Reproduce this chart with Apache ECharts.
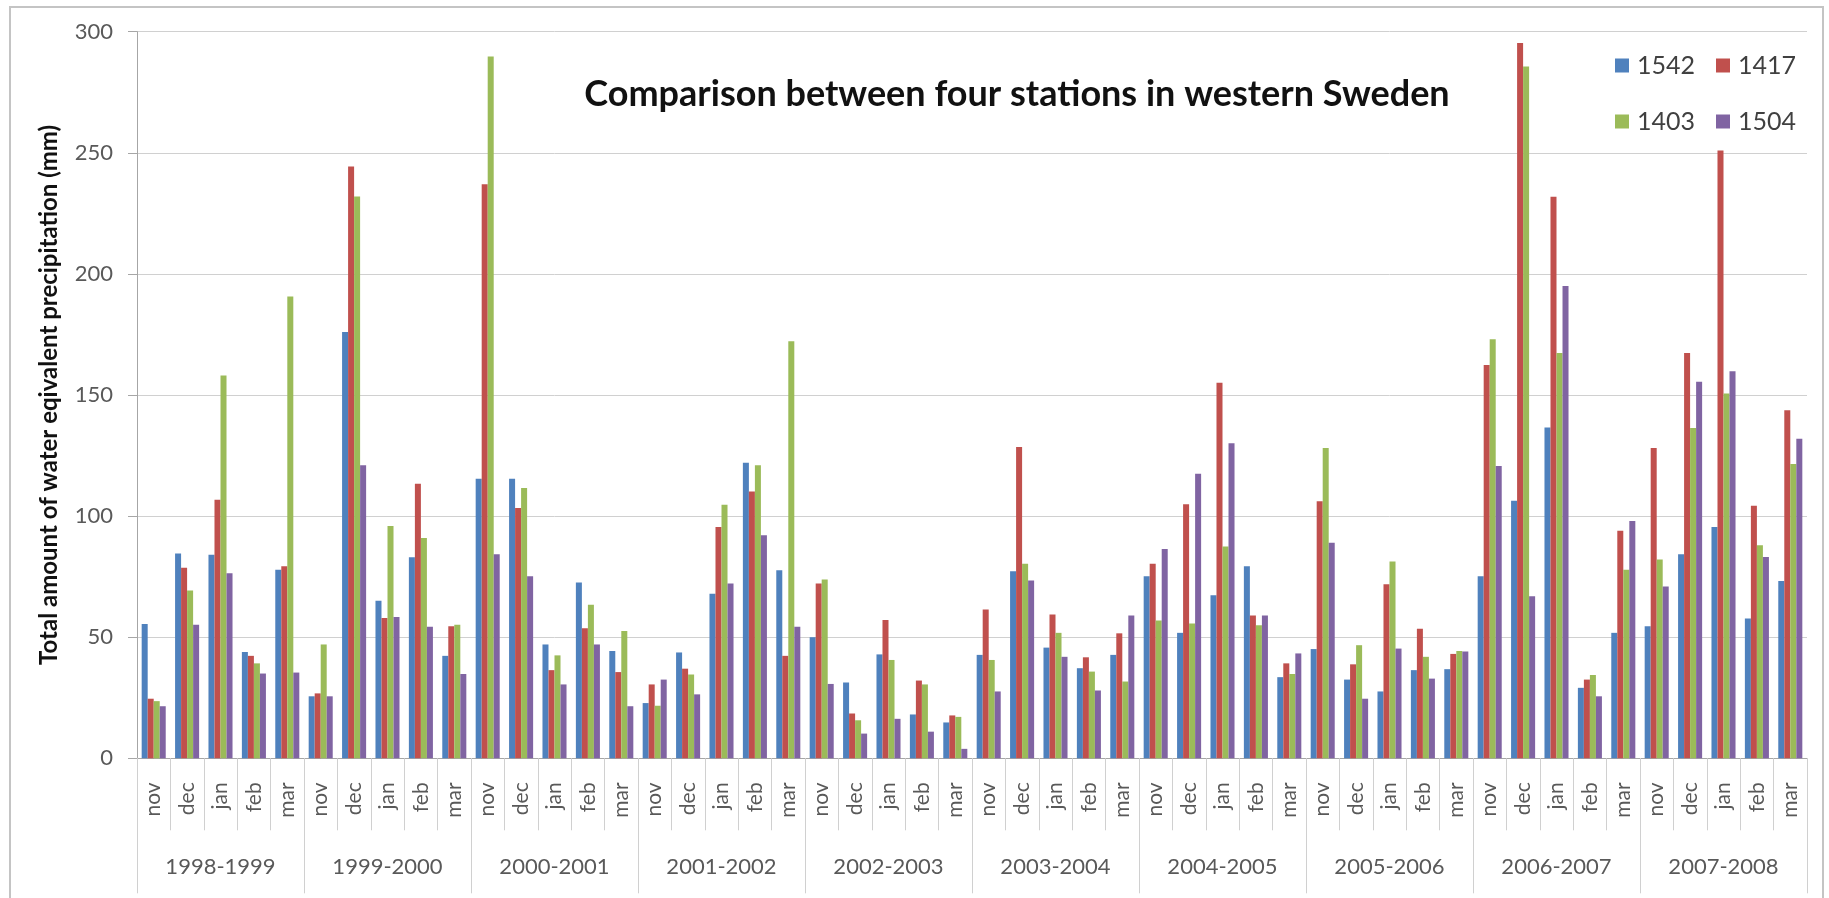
<!DOCTYPE html>
<html>
<head>
<meta charset="utf-8">
<style>
  html, body { margin: 0; padding: 0; background: #ffffff; }
  #chart { width: 1829px; height: 898px; }
</style>
<script src="https://cdn.jsdelivr.net/npm/echarts@6/dist/echarts.min.js"></script>
</head>
<body>
<div id="chart"></div>
<script>
// Winter months and seasons (two-level category axis)
const months = ['nov', 'dec', 'jan', 'feb', 'mar'];
const seasons = ['1998-1999', '1999-2000', '2000-2001', '2001-2002', '2002-2003',
                 '2003-2004', '2004-2005', '2005-2006', '2006-2007', '2007-2008'];
const stations = ['1542', '1417', '1403', '1504'];

// Monthly water equivalent precipitation (mm), nov..mar per season
const st1542 = [
  55.5, 84.6, 84, 43.9, 77.8,
  25.6, 176, 65, 83, 42.3,
  115.4, 115.4, 47, 72.6, 44.3,
  22.8, 43.7, 67.9, 122, 77.6,
  50, 31.3, 42.9, 18.1, 14.8,
  42.7, 77.2, 45.7, 37.2, 42.7,
  75.2, 51.8, 67.3, 79.3, 33.5,
  45.1, 32.5, 27.6, 36.4, 36.8,
  75.2, 106.3, 136.6, 29.1, 51.8,
  54.5, 84.3, 95.5, 57.7, 73.2
];
const st1417 = [
  24.6, 78.7, 106.7, 42.3, 79.3,
  26.8, 244.3, 57.9, 113.4, 54.5,
  237, 103.3, 36.4, 53.7, 35.6,
  30.5, 37, 95.5, 110.2, 42.3,
  72.2, 18.5, 57.1, 32.1, 17.7,
  61.4, 128.5, 59.4, 41.7, 51.6,
  80.3, 104.9, 155.1, 59, 39.2,
  106.1, 38.8, 71.9, 53.5, 43.1,
  162.4, 295.3, 231.9, 32.5, 93.9,
  128.1, 167.3, 251, 104.3, 143.7
];
const st1403 = [
  23.6, 69.3, 158, 39.2, 190.7,
  47, 232, 95.9, 91, 55.1,
  289.8, 111.6, 42.5, 63.4, 52.6,
  21.7, 34.6, 104.7, 121, 172.2,
  73.8, 15.7, 40.6, 30.5, 17.1,
  40.6, 80.3, 51.8, 35.8, 31.7,
  56.9, 55.7, 87.4, 54.9, 34.8,
  128.1, 46.7, 81.3, 41.9, 44.3,
  173, 285.6, 167.3, 34.4, 77.8,
  82.1, 136.4, 150.6, 88, 121.5
];
const st1504 = [
  21.5, 55.1, 76.4, 35, 35.4,
  25.6, 121, 58.3, 54.3, 34.8,
  84.3, 75.2, 30.5, 47, 21.5,
  32.5, 26.4, 72.2, 92.1, 54.3,
  30.7, 10.2, 16.3, 11, 3.9,
  27.6, 73.4, 41.9, 28, 59,
  86.4, 117.5, 130.1, 59, 43.3,
  89, 24.6, 45.3, 32.9, 44.1,
  120.7, 66.9, 195, 25.6, 98,
  70.9, 155.5, 159.8, 83.1, 131.9
];

const colors = ['#4F81BD', '#C0504D', '#9BBB59', '#8064A2'];
const FONT = 'Lato, "Open Sans", sans-serif';

// One category per month within every season
const monthCats = [];
seasons.forEach(function () { months.forEach(function (m) { monthCats.push(m); }); });

const values = [st1542, st1417, st1403, st1504];

const chart = echarts.init(document.getElementById('chart'), null, { renderer: 'canvas' });

const legendBase = {
  icon: 'rect',
  itemWidth: 14,
  itemHeight: 14,
  itemGap: 21,
  orient: 'horizontal',
  left: 1615,
  textStyle: { fontFamily: FONT, fontSize: 25, color: '#404040', padding: [0, 0, 0, 3] },
  backgroundColor: '#ffffff',
  padding: 0,
  selectedMode: false
};

chart.setOption({
  animation: false,
  backgroundColor: '#ffffff',
  color: colors,
  title: {
    text: 'Comparison between four stations in western Sweden',
    left: 1012,
    top: 89,
    textAlign: 'center',
    textVerticalAlign: 'middle',
    textStyle: { fontFamily: FONT, fontSize: 36, fontWeight: 'bold', color: '#111111' }
  },
  legend: [
    Object.assign({}, legendBase, { data: [stations[0], stations[1]], top: 53 }),
    Object.assign({}, legendBase, { data: [stations[2], stations[3]], top: 109 })
  ],
  grid: { left: 137, right: 22, top: 31.7, bottom: 139.7, containLabel: false },
  xAxis: [
    {
      type: 'category',
      data: monthCats,
      position: 'bottom',
      axisLine: { show: true, lineStyle: { color: '#a6a6a6', width: 1 } },
      axisTick: { show: true, interval: 0, length: 72, lineStyle: { color: '#d0d0d0' } },
      axisLabel: {
        interval: 0, rotate: 90, margin: 24,
        fontFamily: FONT, fontSize: 21, color: '#595959'
      },
      splitLine: { show: false }
    },
    {
      type: 'category',
      data: seasons,
      position: 'bottom',
      axisLine: { show: false },
      axisTick: { show: true, interval: 0, length: 135, lineStyle: { color: '#d0d0d0' } },
      axisLabel: { interval: 0, margin: 98, fontFamily: FONT, fontSize: 22, color: '#595959' },
      splitLine: { show: false }
    }
  ],
  yAxis: {
    type: 'value',
    min: 0,
    max: 300,
    interval: 50,
    name: 'Total amount of water eqivalent precipitation (mm)',
    nameLocation: 'middle',
    nameRotate: 90,
    nameGap: 76,
    nameTextStyle: { fontFamily: FONT, fontSize: 24, fontWeight: 'bold', color: '#111111' },
    axisLine: { show: true, lineStyle: { color: '#a6a6a6' } },
    axisTick: { show: true, length: 9, lineStyle: { color: '#a6a6a6' } },
    axisLabel: { margin: 24, fontFamily: FONT, fontSize: 22, color: '#595959' },
    splitLine: { show: true, lineStyle: { color: '#d0d0d0', width: 1 } }
  },
  series: stations.map(function (name, i) {
    return {
      name: name,
      type: 'bar',
      xAxisIndex: 0,
      data: values[i],
      barGap: '0%',
      barCategoryGap: '28%',
      z: 1
    };
  }),
  graphic: [
    {
      type: 'rect',
      shape: { x: 10, y: 7, width: 1813, height: 900 },
      style: { fill: 'none', stroke: '#c4c4c4', lineWidth: 2 },
      silent: true,
      z: 100
    }
  ]
});
</script>
</body>
</html>
